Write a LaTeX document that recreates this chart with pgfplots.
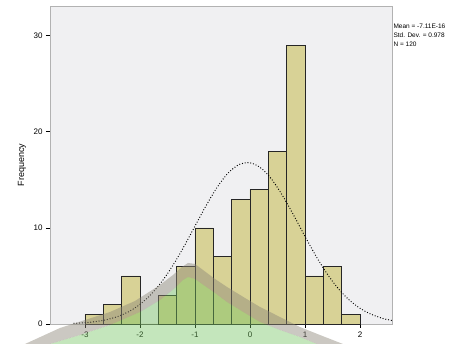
\documentclass[border=0pt]{standalone}
\usepackage{fontspec}
\setmainfont{Liberation Sans}
\usepackage{pgfplots}
\pgfplotsset{compat=1.18}
\definecolor{barfill}{RGB}{216,210,150}
\definecolor{bgc}{RGB}{240,240,242}
\definecolor{bandc}{RGB}{140,134,120}
\definecolor{greenc}{RGB}{115,195,95}
\begin{document}
\begin{tikzpicture}[x=1pt,y=1pt]
\path[use as bounding box] (0,0) rectangle (469,344);
\begin{axis}[at={(50pt,20pt)}, anchor=south west, scale only axis,
  width=342pt, height=318pt,
  xmin=-3.636, xmax=2.582, ymin=0, ymax=33.1,
  axis background/.style={fill=bgc},
  axis line style={gray!60},
  xtick={-3,-2,-1,0,1,2}, ytick={0,10,20,30},
  tick style={black, line width=0.8pt}, tick align=outside, major tick length=4pt,
  xtick pos=bottom, ytick pos=left,
  ticklabel style={font=\fontsize{8}{9}\selectfont},
  /pgf/number format/assume math mode=true,
  ylabel={Frequency},
  ylabel style={font=\fontsize{9}{11}\selectfont, at={(axis description cs:-0.082,0.5)}, anchor=center},
  clip=false]
\addplot[ybar interval, fill=barfill, draw=black!85, line width=0.7pt] coordinates {
(-3,1) (-2.6667,2) (-2.3333,5) (-2,0) (-1.6667,3) (-1.3333,6) (-1,10) (-0.6667,7)
(-0.3333,13) (0,14) (0.3333,18) (0.6667,29) (1,5) (1.3333,6) (1.6667,1) (2,1)};
\addplot[black, line width=1.3pt, line cap=round, dash pattern=on 0pt off 2.8pt, smooth] coordinates {
(-3.2,0.069) (-3.0,0.136) (-2.8,0.255) (-2.6,0.458) (-2.4,0.788) (-2.2,1.30)
(-2.0,2.04) (-1.8,3.08) (-1.6,4.43) (-1.4,6.12) (-1.2,8.07) (-1.0,10.19)
(-0.8,12.30) (-0.6,14.21) (-0.4,15.70) (-0.2,16.59) (0.0,16.78) (0.2,16.23)
(0.4,15.02) (0.6,13.29) (0.8,11.26) (1.0,9.12) (1.2,7.07) (1.4,5.24)
(1.6,3.72) (1.8,2.52) (2.0,1.64) (2.2,1.02) (2.4,0.60) (2.6,0.34)};
% overlay band and green area
\addplot[draw=none, fill=greenc, fill opacity=0.42] coordinates {
(-3.636,-2.083) (-3.091,-1.146) (-2.545,-0.104) (-2.0,1.25) (-1.636,2.5) (-1.364,3.75)
(-1.218,4.583) (-1.127,4.896) (-1.0,4.688) (-0.818,3.958) (-0.636,3.229) (-0.418,2.292)
(-0.091,1.146) (0.182,0.208) (0.545,-0.625) (0.909,-1.354) (1.218,-2.083)} -- cycle;
\addplot[draw=none, fill=bandc, fill opacity=0.45] coordinates {
(-4.091,-2.083) (-3.455,-0.417) (-3.0,0.417) (-2.545,1.25) (-2.091,2.396) (-1.636,4.063)
(-1.4,5.104) (-1.236,5.938) (-1.127,6.354) (-1.0,6.25) (-0.855,5.625) (-0.636,4.688)
(-0.418,3.854) (-0.091,2.708) (0.182,1.771) (0.545,0.729) (0.909,-0.3125) (1.273,-1.146)
(1.691,-2.083)
(1.218,-2.083) (0.909,-1.354) (0.545,-0.625) (0.182,0.208) (-0.091,1.146) (-0.418,2.292)
(-0.636,3.229) (-0.818,3.958) (-1.0,4.688) (-1.127,4.896) (-1.218,4.583) (-1.364,3.75)
(-1.636,2.5) (-2.0,1.25) (-2.545,-0.104) (-3.091,-1.146) (-3.636,-2.083)} -- cycle;
\node[anchor=north west, align=left, inner sep=0pt, font=\fontsize{6.5}{9}\selectfont]
  at (rel axis cs:1.004,0.945) {Mean = -7.11E-16\\Std. Dev. = 0.978\\N = 120};
\end{axis}
\end{tikzpicture}
\end{document}
